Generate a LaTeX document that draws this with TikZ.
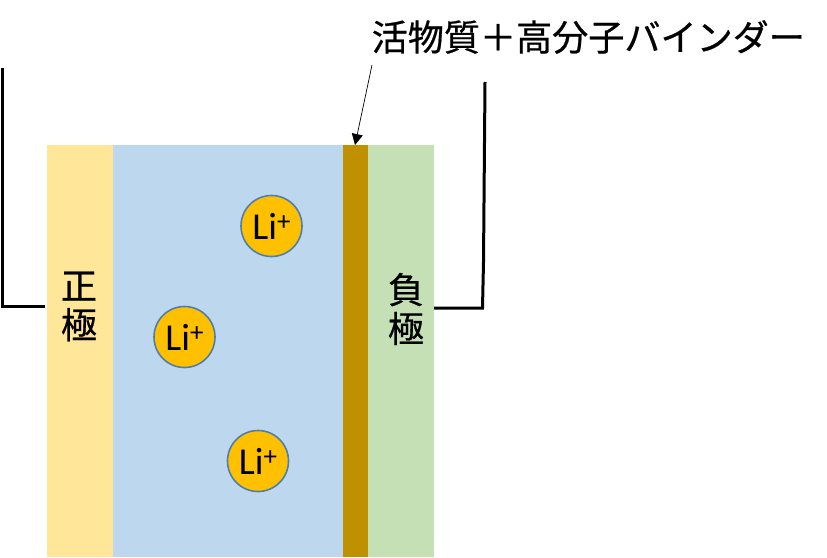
\documentclass[tikz,border=0pt]{standalone}
\usepackage{fontspec}
\setmainfont{Carlito}
\newfontfamily\cjk[FakeBold=0.6]{Noto Sans CJK JP}
\usetikzlibrary{arrows.meta}
\definecolor{posc}{HTML}{FFE699}
\definecolor{elec}{HTML}{BDD7EE}
\definecolor{binder}{HTML}{BF9000}
\definecolor{negc}{HTML}{C5E0B4}
\definecolor{ionc}{HTML}{FFC000}
\definecolor{ionb}{HTML}{4F7FA8}
\newcommand{\liion}{Li\raisebox{9pt}{\fontsize{27}{27}\selectfont +}}
\tikzset{
  layer/.style={draw=none,minimum height=412pt,inner sep=0pt,outer sep=0pt,anchor=north west},
  ion/.style={circle,draw=ionb,line width=1.6pt,fill=ionc,minimum size=61pt,inner sep=0pt,font=\fontsize{38}{40}\selectfont},
  jp/.style={font=\cjk\fontsize{36.1}{39}\selectfont,inner sep=0pt,text=black},
  wire/.style={line width=3pt,black,line join=miter}
}
\begin{document}
\begin{tikzpicture}[x=1pt,y=-1pt]
\useasboundingbox (0,0) rectangle (827,557);
\node[layer,fill=posc,minimum width=66pt] (pos) at (47,145) {};
\node[layer,fill=elec,minimum width=230pt] (elyte) at (113,145) {};
\node[layer,fill=binder,minimum width=25pt] (bind) at (343,145) {};
\node[layer,fill=negc,minimum width=66pt] (neg) at (368,145) {};
\node[ion] (i1) at (271.5,226) {\liion};
\node[ion] (i2) at (184.5,337) {\liion};
\node[ion] (i3) at (258,461) {\liion};
\node[jp,align=center] (plabel) at (79,306.5) {正\\極};
\node[jp,align=center] (nlabel) at (406,309) {負\\極};
\node[jp,anchor=west] (title) at (371.5,37) {活物質＋高分子バインダー};
\coordinate (lt) at (2,68);
\coordinate (lb) at (2,306);
\coordinate (le) at (45,306);
\coordinate (ns) at (434,308);
\coordinate (nc) at (482.5,308);
\coordinate (nk) at (483.5,262);
\coordinate (nt) at (485,82);
\coordinate (as) at (372,65);
\coordinate (ae) at (355,145);
\draw[wire] (lt) -- (lb) -- (le);
\draw[wire] (ns) -- (nc) -- (nk) -- (nt);
\draw[line width=0.7pt,-{Triangle[length=11pt,width=11pt]}] (as) -- (ae);
\end{tikzpicture}
\end{document}
